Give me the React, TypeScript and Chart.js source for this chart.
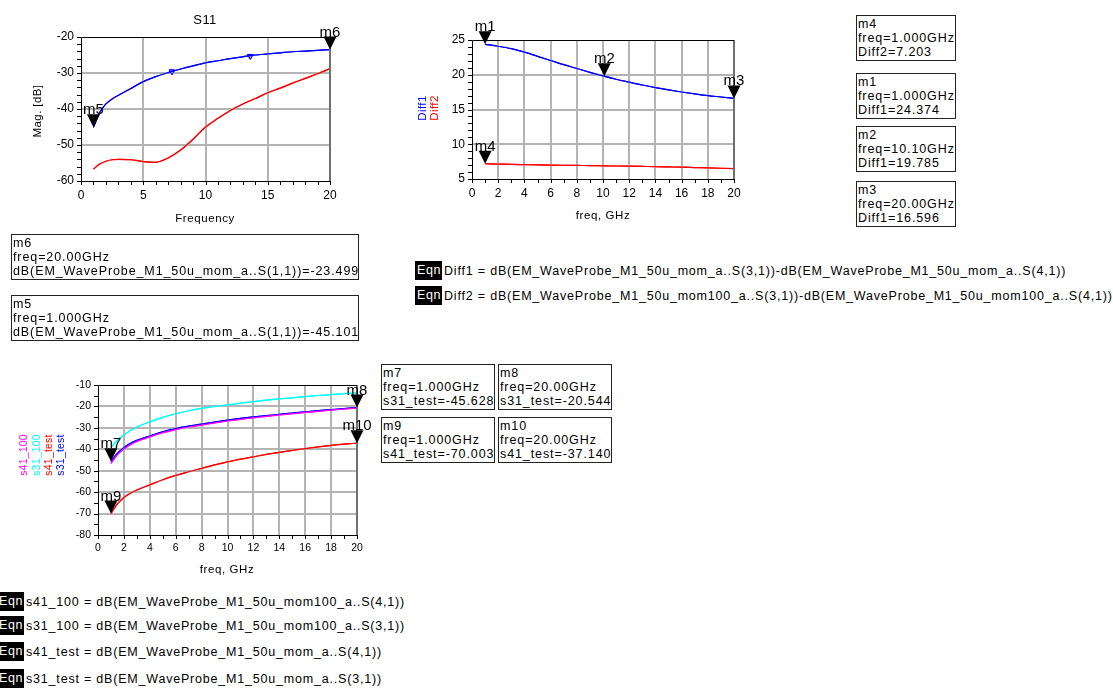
import React, { useEffect, useRef } from "react";
import { Chart, registerables } from "chart.js";

Chart.register(...registerables);

const FONT = '"Liberation Sans", Arial, Helvetica, sans-serif';

// ---------- S11 panel ----------
const s11Freq = [1, 1.5, 2, 2.5, 3, 4, 5, 6, 7, 8, 9, 10, 11, 12, 13, 14, 15, 16, 17, 18, 19, 20];
const s11MomDb = [-45.101, -41.0, -38.6, -37.2, -36.2, -34.3, -32.4, -31.0, -29.9, -28.9, -28.0, -27.2, -26.6, -26.0, -25.5, -25.0, -24.7, -24.4, -24.1, -23.9, -23.7, -23.499];
const s11Mom100Db = [-56.7, -55.3, -54.5, -54.1, -54.0, -54.1, -54.6, -54.8, -53.6, -51.4, -48.4, -45.0, -42.6, -40.4, -38.6, -37.1, -35.5, -34.2, -32.8, -31.5, -30.2, -28.8];
const s11SymbolFreq = [7.3, 13.6];
const s11SymbolDb = [-29.6, -25.3];
const s11MarkerNames = ["m5", "m6"];
const s11MarkerFreq = [1, 20];
const s11MarkerDb = [-45.101, -23.499];

// ---------- Diff panel ----------
const diffFreq = [1, 2, 3, 4, 5, 6, 7, 8, 9, 10, 11, 12, 13, 14, 15, 16, 17, 18, 19, 20];
const diff1 = [24.374, 24.1, 23.75, 23.25, 22.65, 22.05, 21.45, 20.9, 20.35, 19.83, 19.35, 18.93, 18.52, 18.15, 17.82, 17.52, 17.25, 17.0, 16.8, 16.596];
const diff2 = [7.203, 7.15, 7.1, 7.07, 7.04, 7.01, 6.98, 6.95, 6.93, 6.9, 6.87, 6.84, 6.81, 6.78, 6.74, 6.7, 6.65, 6.6, 6.55, 6.5];
const diffMarkerNames = ["m1", "m2", "m3", "m4"];
const diffMarkerFreq = [1, 10.1, 20, 1];
const diffMarkerVal = [24.374, 19.785, 16.596, 7.203];

// ---------- coupling panel ----------
const cplFreq = [1, 1.5, 2, 2.5, 3, 4, 5, 6, 7, 8, 9, 10, 11, 12, 13, 14, 15, 16, 17, 18, 19, 20];
const s31_100 = [-39.2, -35.8, -33.3, -31.2, -29.6, -27.2, -25.1, -23.4, -22.0, -20.9, -20.0, -19.3, -18.5, -17.8, -17.1, -16.5, -16.0, -15.4, -14.9, -14.5, -14.0, -13.7];
const s41_100 = [-46.6, -42.5, -39.9, -37.9, -36.4, -34.2, -32.3, -30.8, -29.6, -28.7, -27.7, -26.8, -26.0, -25.3, -24.6, -24.0, -23.4, -22.8, -22.3, -21.7, -21.2, -20.8];
const s31_test = [-45.628, -41.8, -39.2, -37.2, -35.8, -33.8, -31.8, -30.3, -29.2, -28.3, -27.3, -26.4, -25.6, -24.9, -24.3, -23.7, -23.1, -22.5, -22.0, -21.5, -21.0, -20.544];
const s41_test = [-70.003, -65.5, -62.5, -60.5, -59.0, -56.6, -54.2, -52.2, -50.5, -48.9, -47.3, -45.9, -44.6, -43.5, -42.4, -41.4, -40.5, -39.7, -38.9, -38.2, -37.6, -37.14];
const cplMarkerNames = ["m7", "m8", "m9", "m10"];
const cplMarkerFreq = [1, 20, 1, 20];
const cplMarkerVal = [-45.628, -20.544, -70.003, -37.14];

const BLUE = "#0000ff";
const RED = "#ff0000";
const MAGENTA = "#ff00ff";
const CYAN = "#00ffff";
const GRID = "#b4b4b4";

type AxisSpec = { min: number; max: number; step: number; minor: number };

const pts = (xs: number[], ys: number[]) => xs.map((x, i) => ({ x, y: ys[i] }));

const trace = (xs: number[], ys: number[], color: string) => ({
  type: "line",
  data: pts(xs, ys),
  borderColor: color,
  borderWidth: 1.2,
  pointRadius: 0,
  fill: false,
  cubicInterpolationMode: "monotone",
});

// Grid, traces on top of it, then frame and outward tick marks
const framePlugin = {
  id: "adsFrame",
  afterDraw(chart: any, _args: any, opts: any) {
    const { ctx, chartArea: a, scales } = chart;
    const xs = scales.x;
    const ys = scales.y;

    // grid at every major step
    ctx.save();
    ctx.fillStyle = GRID;
    const nx = Math.round((opts.x.max - opts.x.min) / opts.x.step);
    for (let i = 1; i < nx; i++) {
      const px = Math.round(xs.getPixelForValue(opts.x.min + i * opts.x.step));
      ctx.fillRect(px - 1, a.top, 2, a.bottom - a.top);
    }
    const ny = Math.round((opts.y.max - opts.y.min) / opts.y.step);
    for (let i = 1; i < ny; i++) {
      const py = Math.round(ys.getPixelForValue(opts.y.min + i * opts.y.step));
      ctx.fillRect(a.left, py - 1, a.right - a.left, 2);
    }
    ctx.restore();

    // traces again so they sit above the grid
    const metas = chart.getSortedVisibleDatasetMetas();
    for (let i = metas.length - 1; i >= 0; i--) {
      ctx.save();
      ctx.beginPath();
      ctx.rect(a.left, a.top, a.right - a.left, a.bottom - a.top);
      ctx.clip();
      metas[i].controller.draw();
      ctx.restore();
    }

    ctx.save();
    ctx.strokeStyle = "#000";
    ctx.lineWidth = 1;
    ctx.beginPath();
    for (let v = opts.x.min; v <= opts.x.max + 1e-9; v += opts.x.minor) {
      const px = Math.round(xs.getPixelForValue(v)) + 0.5;
      ctx.moveTo(px, a.bottom);
      ctx.lineTo(px, a.bottom + 4);
    }
    for (let v = opts.y.min; v <= opts.y.max + 1e-9; v += opts.y.minor) {
      const py = Math.round(ys.getPixelForValue(v)) + 0.5;
      ctx.moveTo(a.left - 4, py);
      ctx.lineTo(a.left, py);
    }
    ctx.stroke();
    // right edge
    ctx.strokeStyle = "#707070";
    ctx.lineWidth = 2;
    ctx.beginPath();
    ctx.moveTo(Math.round(a.right), a.top);
    ctx.lineTo(Math.round(a.right), a.bottom);
    ctx.stroke();
    // left, top, bottom edges
    ctx.strokeStyle = "#000";
    ctx.lineWidth = 1;
    ctx.beginPath();
    const l = Math.round(a.left) + 0.5;
    const t = Math.round(a.top) + 0.5;
    const b = Math.round(a.bottom) + 0.5;
    ctx.moveTo(l, t);
    ctx.lineTo(l, b);
    ctx.lineTo(Math.round(a.right), b);
    ctx.moveTo(l, t);
    ctx.lineTo(Math.round(a.right), t);
    ctx.stroke();
    ctx.restore();
  },
};

// Marker triangles with their names
const markerPlugin = {
  id: "adsMarkers",
  afterDraw(chart: any, _args: any, opts: any) {
    const { ctx, scales } = chart;
    ctx.save();
    ctx.fillStyle = "#000";
    ctx.font = `15px ${FONT}`;
    ctx.textAlign = "center";
    ctx.textBaseline = "alphabetic";
    opts.names.forEach((name: string, i: number) => {
      const px = scales.x.getPixelForValue(opts.xs[i]);
      const py = scales.y.getPixelForValue(opts.ys[i]);
      ctx.beginPath();
      ctx.moveTo(px - 6.5, py - 13);
      ctx.lineTo(px + 6.5, py - 13);
      ctx.lineTo(px, py);
      ctx.closePath();
      ctx.fill();
      ctx.fillText(name, px, py - 13);
    });
    ctx.restore();
  },
};

interface PanelSpec {
  width: number;
  height: number;
  plotLeft: number;
  plotTop: number;
  plotRight: number;
  plotBottom: number;
  x: AxisSpec;
  y: AxisSpec;
  tickSize: number;
  datasets: any[];
  markers: { names: string[]; xs: number[]; ys: number[] };
}

function buildConfig(spec: PanelSpec): any {
  const tickFont = { family: FONT, size: spec.tickSize };
  return {
    type: "line",
    data: { datasets: spec.datasets },
    options: {
      responsive: false,
      maintainAspectRatio: false,
      animation: false,
      devicePixelRatio: 1,
      layout: { padding: { left: 0, top: spec.plotTop, right: spec.width - spec.plotRight, bottom: 0 } },
      plugins: {
        legend: { display: false },
        tooltip: { enabled: false },
        adsFrame: { x: spec.x, y: spec.y },
        adsMarkers: spec.markers,
      },
      scales: {
        x: {
          type: "linear",
          position: "bottom",
          min: spec.x.min,
          max: spec.x.max,
          ticks: { stepSize: spec.x.step, color: "#000", font: tickFont, padding: 7, maxRotation: 0, autoSkip: false },
          grid: { display: false, drawTicks: false },
          border: { display: false },
          afterFit: (s: any) => {
            s.height = spec.height - spec.plotBottom;
          },
        },
        y: {
          type: "linear",
          position: "left",
          min: spec.y.min,
          max: spec.y.max,
          ticks: { stepSize: spec.y.step, color: "#000", font: tickFont, padding: 7, autoSkip: false },
          grid: { display: false, drawTicks: false },
          border: { display: false },
          afterFit: (s: any) => {
            s.width = spec.plotLeft;
          },
        },
      },
    },
    plugins: [framePlugin, markerPlugin],
  };
}

function Panel({ left, top, spec }: { left: number; top: number; spec: PanelSpec }) {
  const ref = useRef<HTMLCanvasElement | null>(null);
  useEffect(() => {
    if (!ref.current) return;
    const chart = new Chart(ref.current, buildConfig(spec));
    return () => chart.destroy();
  }, []);
  return (
    <canvas
      ref={ref}
      width={spec.width}
      height={spec.height}
      style={{ position: "absolute", left, top, width: spec.width, height: spec.height }}
    />
  );
}

const s11Spec: PanelSpec = {
  width: 360,
  height: 230,
  plotLeft: 81,
  plotTop: 37,
  plotRight: 330,
  plotBottom: 181,
  x: { min: 0, max: 20, step: 5, minor: 1 },
  y: { min: -60, max: -20, step: 10, minor: 2 },
  tickSize: 12,
  datasets: [
    trace(s11Freq, s11Mom100Db, RED),
    trace(s11Freq, s11MomDb, BLUE),
    {
      type: "line",
      data: pts(s11SymbolFreq, s11SymbolDb),
      pointStyle: "triangle",
      rotation: 180,
      pointRadius: 3.2,
      borderWidth: 1,
      borderColor: BLUE,
      backgroundColor: "rgba(0,0,0,0)",
      showLine: false,
      fill: false,
    },
  ],
  markers: { names: s11MarkerNames, xs: s11MarkerFreq, ys: s11MarkerDb },
};

const diffSpec: PanelSpec = {
  width: 350,
  height: 230,
  plotLeft: 62,
  plotTop: 40,
  plotRight: 324,
  plotBottom: 179,
  x: { min: 0, max: 20, step: 2, minor: 1 },
  y: { min: 5, max: 25, step: 5, minor: 1 },
  tickSize: 12,
  datasets: [trace(diffFreq, diff1, BLUE), trace(diffFreq, diff2, RED)],
  markers: { names: diffMarkerNames, xs: diffMarkerFreq, ys: diffMarkerVal },
};

const cplSpec: PanelSpec = {
  width: 380,
  height: 220,
  plotLeft: 98,
  plotTop: 25,
  plotRight: 357,
  plotBottom: 175,
  x: { min: 0, max: 20, step: 2, minor: 1 },
  y: { min: -80, max: -10, step: 10, minor: 5 },
  tickSize: 10.5,
  datasets: [
    trace(cplFreq, s41_test, RED),
    trace(cplFreq, s31_100, CYAN),
    trace(cplFreq, s41_100, MAGENTA),
    trace(cplFreq, s31_test, BLUE),
  ],
  markers: { names: cplMarkerNames, xs: cplMarkerFreq, ys: cplMarkerVal },
};

const textStyle: React.CSSProperties = {
  fontFamily: FONT,
  fontSize: 12.5,
  letterSpacing: "0.8px",
  lineHeight: "14px",
  color: "#000",
  whiteSpace: "pre",
};

function Label({ x, y, text, size = 12, color = "#000", rotate = false, spacing = 0.4 }: { x: number; y: number; text: string; size?: number; color?: string; rotate?: boolean; spacing?: number }) {
  return (
    <div
      style={{
        position: "absolute",
        left: x,
        top: y,
        transform: `translate(-50%, -50%)${rotate ? " rotate(-90deg)" : ""}`,
        fontFamily: FONT,
        fontSize: size,
        letterSpacing: `${spacing}px`,
        color,
        whiteSpace: "nowrap",
        lineHeight: 1,
        pointerEvents: "none",
      }}
    >
      {text}
    </div>
  );
}

function MarkerBox({ x, y, w, lines }: { x: number; y: number; w: number; lines: string[] }) {
  return (
    <div
      style={{
        ...textStyle,
        letterSpacing: "0.9px",
        position: "absolute",
        left: x,
        top: y,
        width: w,
        boxSizing: "border-box",
        border: "1px solid #222",
        padding: "1px 0 1px 1px",
        overflow: "hidden",
      }}
    >
      {lines.join("\n")}
    </div>
  );
}

function Eqn({ x, y, text }: { x: number; y: number; text: string }) {
  return (
    <div style={{ ...textStyle, position: "absolute", left: x, top: y, display: "flex", alignItems: "center" }}>
      <span style={{ background: "#000", color: "#fff", padding: "2px 1px 3px 2px", marginRight: 2, letterSpacing: "0.6px" }}>Eqn</span>
      <span>{text}</span>
    </div>
  );
}

export default function App() {
  return (
    <div style={{ position: "absolute", left: 0, top: 0, width: 1113, height: 688, background: "#fff", overflow: "hidden" }}>
      <Panel left={0} top={0} spec={s11Spec} />
      <Panel left={410} top={0} spec={diffSpec} />
      <Panel left={0} top={360} spec={cplSpec} />

      <Label x={205} y={19} text="S11" size={13} />
      <Label x={38} y={111} text="Mag. [dB]" size={11.5} rotate />
      <Label x={205} y={219} text="Frequency" size={11.5} spacing={0.6} />

      <Label x={423} y={108} text="Diff1" size={11.5} color={BLUE} rotate />
      <Label x={435} y={108} text="Diff2" size={11.5} color={RED} rotate />
      <Label x={603} y={216} text="freq, GHz" size={11.5} spacing={0.6} />

      <Label x={23} y={455} text="s41_100" size={10.5} color={MAGENTA} rotate spacing={0.2} />
      <Label x={36} y={455} text="s31_100" size={10.5} color={CYAN} rotate spacing={0.2} />
      <Label x={48} y={455} text="s41_test" size={10.5} color={RED} rotate spacing={0.2} />
      <Label x={60} y={455} text="s31_test" size={10.5} color={BLUE} rotate spacing={0.2} />
      <Label x={227} y={570} text="freq, GHz" size={11.5} spacing={0.6} />

      <MarkerBox x={11} y={234} w={348} lines={["m6", "freq=20.00GHz", "dB(EM_WaveProbe_M1_50u_mom_a..S(1,1))=-23.499"]} />
      <MarkerBox x={11} y={295} w={348} lines={["m5", "freq=1.000GHz", "dB(EM_WaveProbe_M1_50u_mom_a..S(1,1))=-45.101"]} />

      <MarkerBox x={856} y={15} w={100} lines={["m4", "freq=1.000GHz", "Diff2=7.203"]} />
      <MarkerBox x={856} y={73} w={100} lines={["m1", "freq=1.000GHz", "Diff1=24.374"]} />
      <MarkerBox x={856} y={126} w={100} lines={["m2", "freq=10.10GHz", "Diff1=19.785"]} />
      <MarkerBox x={856} y={181} w={100} lines={["m3", "freq=20.00GHz", "Diff1=16.596"]} />

      <MarkerBox x={381} y={364} w={114} lines={["m7", "freq=1.000GHz", "s31_test=-45.628"]} />
      <MarkerBox x={498} y={364} w={114} lines={["m8", "freq=20.00GHz", "s31_test=-20.544"]} />
      <MarkerBox x={381} y={417} w={114} lines={["m9", "freq=1.000GHz", "s41_test=-70.003"]} />
      <MarkerBox x={498} y={417} w={114} lines={["m10", "freq=20.00GHz", "s41_test=-37.140"]} />

      <Eqn x={415} y={261} text="Diff1 = dB(EM_WaveProbe_M1_50u_mom_a..S(3,1))-dB(EM_WaveProbe_M1_50u_mom_a..S(4,1))" />
      <Eqn x={415} y={286} text="Diff2 = dB(EM_WaveProbe_M1_50u_mom100_a..S(3,1))-dB(EM_WaveProbe_M1_50u_mom100_a..S(4,1))" />

      <Eqn x={-3} y={592} text="s41_100 = dB(EM_WaveProbe_M1_50u_mom100_a..S(4,1))" />
      <Eqn x={-3} y={616} text="s31_100 = dB(EM_WaveProbe_M1_50u_mom100_a..S(3,1))" />
      <Eqn x={-3} y={642} text="s41_test = dB(EM_WaveProbe_M1_50u_mom_a..S(4,1))" />
      <Eqn x={-3} y={669} text="s31_test = dB(EM_WaveProbe_M1_50u_mom_a..S(3,1))" />
    </div>
  );
}
